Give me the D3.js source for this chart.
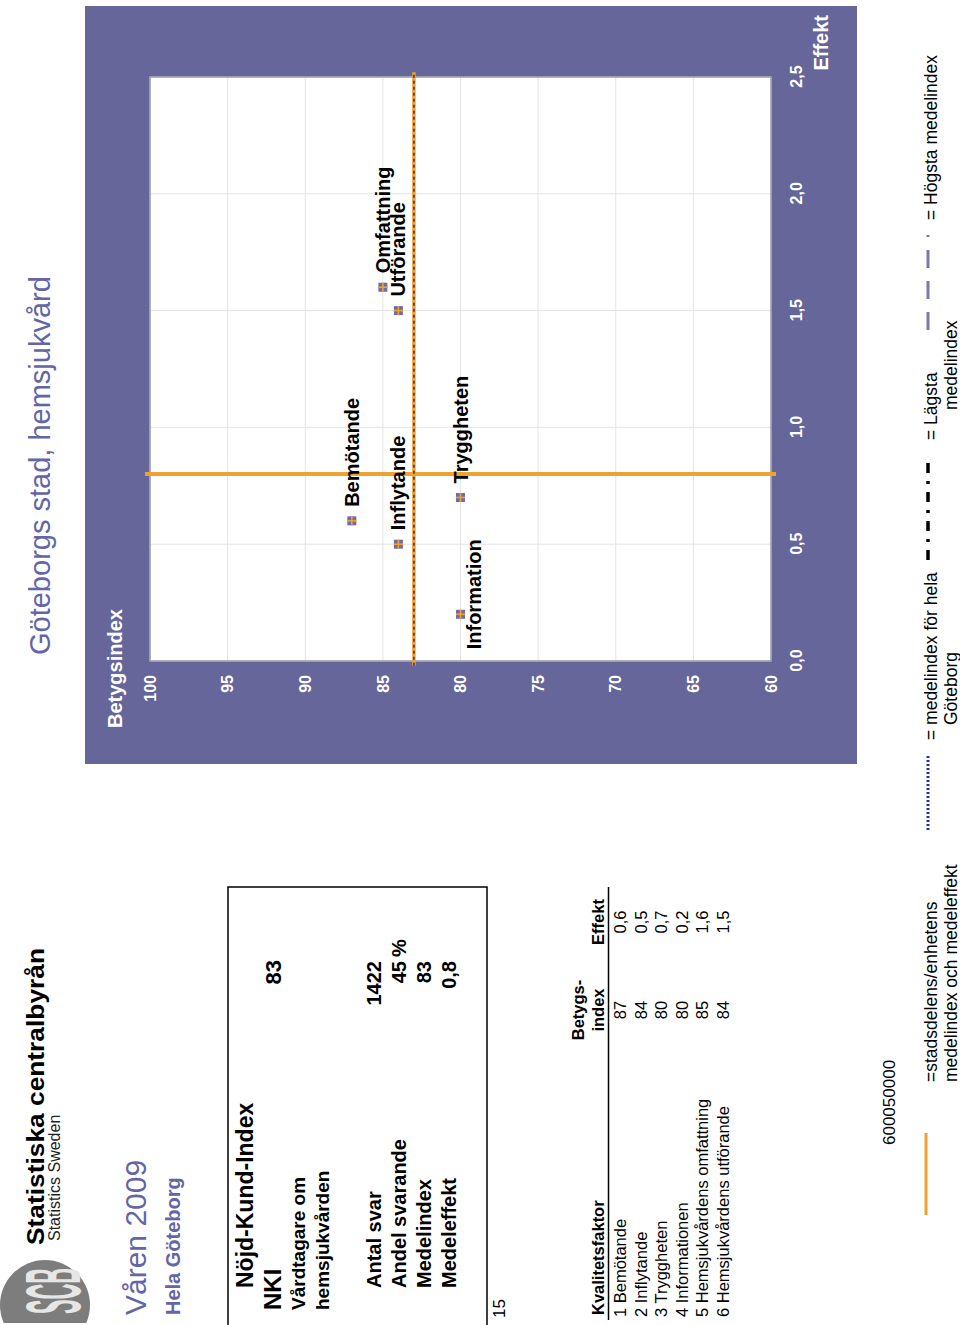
<!DOCTYPE html>
<html><head><meta charset="utf-8">
<script src="https://cdn.jsdelivr.net/npm/d3@7"></script>
<style>
html,body{margin:0;padding:0;background:#fff;}
svg{display:block;font-family:"Liberation Sans",Arial,sans-serif;}
</style></head>
<body>
<svg id="page" width="960" height="1325"></svg>
<script>
// ---------------- data ----------------
const categories = ["1 Bemötande","2 Inflytande","3 Tryggheten","4 Informationen","5 Hemsjukvårdens omfattning","6 Hemsjukvårdens utförande"];
const pointLabels = ["Bemötande","Inflytande","Tryggheten","Information","Omfattning","Utförande"];
const betygsindex = [87,84,80,80,85,84];
const effekt = [0.6,0.5,0.7,0.2,1.6,1.5];
const labelPlacement = ["right","right","right","below","right","right"];
const yTicks = [100,95,90,85,80,75,70,65,60];
const xTicks = [0,0.5,1.0,1.5,2.0,2.5];
const medelindex = 83;
const medeleffekt = 0.8;
const goteborgMedelindex = 83;
const nkiValue = 83;
const summaryLabels = ["Antal svar","Andel svarande","Medelindex","Medeleffekt"];
const summaryValues = ["1422","45","83","0,8"];
const pageNumber = "15";
const code = "600050000";

// ---------------- setup ----------------
const fmt = d => d.toFixed(1).replace(".", ",");
const PURPLE = "#66669a", ORANGE = "#f0a130", TITLE = "#6365a6";
const svg = d3.select("#page");
const g = svg.append("g").attr("transform","translate(0,1325) rotate(-90)");

function txt(parent, s, x, y, size, opts={}) {
  const t = parent.append("text").attr("x",x).attr("y",y)
    .attr("font-size",size).attr("fill",opts.fill||"#000")
    .attr("font-weight",opts.bold?"bold":"normal")
    .attr("text-anchor",opts.anchor||"start").text(s);
  if (opts.len) t.attr("textLength",opts.len).attr("lengthAdjust","spacingAndGlyphs");
  return t;
}

// ---------------- header ----------------
g.append("clipPath").attr("id","logoclip").append("rect").attr("x",2).attr("y",0).attr("width",100).attr("height",100);
const logo = g.append("g").attr("clip-path","url(#logoclip)");
logo.append("circle").attr("cx",20).attr("cy",45).attr("r",45).attr("fill","#7d7d7d");
txt(logo,"SCB",11,80,78,{bold:true,fill:"#e6e6e6",len:46});
txt(g,"Statistiska centralbyrån",80,44,24,{bold:true,len:297});
txt(g,"Statistics Sweden",84,60,16,{fill:"#222"});
txt(g,"Göteborgs stad, hemsjukvård",670,50,29,{fill:TITLE});
txt(g,"Våren 2009",10,146,30,{fill:TITLE});
txt(g,"Hela Göteborg",10,180,20,{bold:true,fill:TITLE});

// ---------------- NKI box ----------------
g.append("rect").attr("x",-2).attr("y",228).attr("width",440).attr("height",259)
  .attr("fill","none").attr("stroke","#000").attr("stroke-width",1.5);
txt(g,"Nöjd-Kund-Index",37,253,23,{bold:true});
txt(g,"NKI",15,281,24,{bold:true});
txt(g,String(nkiValue),365,281,22,{bold:true,anchor:"end"});
txt(g,"Vårdtagare om",15,305,19,{bold:true});
txt(g,"hemsjukvården",15,329,19,{bold:true});
summaryLabels.forEach((s,i)=>{
  const yy = 381 + i*25;
  txt(g,s,37,yy,20,{bold:true});
  txt(g,summaryValues[i],364,yy,20,{bold:true,anchor:"end"});
});
txt(g,"%",368,406,20,{bold:true});
txt(g,pageNumber,7,505,17);

// ---------------- table ----------------
txt(g,"Kvalitetsfaktor",10,604,16.5,{bold:true});
txt(g,"Betygs-",315,584,16.5,{bold:true,anchor:"middle"});
txt(g,"index",315,604,16.5,{bold:true,anchor:"middle"});
txt(g,"Effekt",403,604,16.5,{bold:true,anchor:"middle"});
g.append("line").attr("x1",5).attr("x2",438).attr("y1",608.5).attr("y2",608.5).attr("stroke","#000").attr("stroke-width",1.5);
categories.forEach((c,i)=>{
  const yy = 626 + i*20.6;
  txt(g,c,8,yy,16.5);
  txt(g,String(betygsindex[i]),315,yy,16.5,{anchor:"middle"});
  txt(g,fmt(effekt[i]),403,yy,16.5,{anchor:"middle"});
});
txt(g,code,180,895,17);

// ---------------- legend ----------------
const lg = g.append("g");
lg.append("line").attr("x1",110).attr("x2",192).attr("y1",926).attr("y2",926).attr("stroke",ORANGE).attr("stroke-width",3);
txt(lg,"=stadsdelens/enhetens",243,937,17.5);
txt(lg,"medelindex och medeleffekt",243,957,17.5);
lg.append("line").attr("x1",495).attr("x2",570).attr("y1",928).attr("y2",928).attr("stroke","#2233aa").attr("stroke-width",3).attr("stroke-dasharray","2,2");
txt(lg,"= medelindex för hela",585,937,17.5);
txt(lg,"Göteborg",600,957,17.5);
lg.append("line").attr("x1",765).attr("x2",865).attr("y1",928).attr("y2",928).attr("stroke","#000").attr("stroke-width",3.5).attr("stroke-dasharray","10,8,3,8");
txt(lg,"= Lägsta",885,937,17.5);
txt(lg,"medelindex",915,957,17.5);
lg.append("line").attr("x1",995).attr("x2",1090).attr("y1",928).attr("y2",928).attr("stroke","#7a7aa8").attr("stroke-width",3).attr("stroke-dasharray","18,13");
txt(lg,"= Högsta medelindex",1105,937,17.5);

// ---------------- chart ----------------
const panel = {x0:561,x1:1319,y0:85,y1:857};
const plot = {x0:664,x1:1248,y0:150,y1:771};
g.append("rect").attr("x",panel.x0).attr("y",panel.y0).attr("width",panel.x1-panel.x0).attr("height",panel.y1-panel.y0).attr("fill",PURPLE);
g.append("rect").attr("x",plot.x0).attr("y",plot.y0).attr("width",plot.x1-plot.x0).attr("height",plot.y1-plot.y0).attr("fill","#fff");

const x = d3.scaleLinear().domain([0,2.5]).range([plot.x0,plot.x1]);
const y = d3.scaleLinear().domain([60,100]).range([plot.y1,plot.y0]);

const grid = g.append("g").attr("stroke","#e4e4e4").attr("stroke-width",1);
grid.selectAll(".gx").data(xTicks).join("line")
  .attr("x1",d=>x(d)).attr("x2",d=>x(d)).attr("y1",plot.y0).attr("y2",plot.y1);
grid.selectAll(".gy").data(yTicks).join("line")
  .attr("x1",plot.x0).attr("x2",plot.x1).attr("y1",d=>y(d)).attr("y2",d=>y(d));
g.append("rect").attr("x",plot.x0).attr("y",plot.y0).attr("width",plot.x1-plot.x0).attr("height",plot.y1-plot.y0)
  .attr("fill","none").attr("stroke","#9a9ab0").attr("stroke-width",1.5);

// axes (labels only)
const ax = g.append("g").attr("transform",`translate(${plot.x0},0)`)
  .call(d3.axisLeft(y).tickValues(yTicks).tickSize(0).tickPadding(14));
const bx = g.append("g").attr("transform",`translate(0,${plot.y1})`)
  .call(d3.axisBottom(x).tickValues(xTicks).tickFormat(fmt).tickSize(0).tickPadding(20));
[ax,bx].forEach(a=>{
  a.select(".domain").remove();
  a.selectAll("text").attr("fill","#fff").attr("font-size",16).attr("font-weight","bold")
    .attr("font-family","Liberation Sans, Arial, sans-serif");
});
txt(g,"Betygsindex",597,122,20,{bold:true,fill:"#fff"});
txt(g,"Effekt",1310,828,20,{bold:true,fill:"#fff",anchor:"end"});

// average lines
g.append("line").attr("x1",x(medeleffekt)).attr("x2",x(medeleffekt))
  .attr("y1",y(100)-5).attr("y2",y(60)+5).attr("stroke",ORANGE).attr("stroke-width",4);
g.append("line").attr("x1",x(-0.02)).attr("x2",x(2.52))
  .attr("y1",y(medelindex)).attr("y2",y(medelindex)).attr("stroke",ORANGE).attr("stroke-width",3.5);
g.append("line").attr("x1",x(-0.02)).attr("x2",x(2.52))
  .attr("y1",y(goteborgMedelindex)).attr("y2",y(goteborgMedelindex)).attr("stroke","#3a2a66").attr("stroke-width",1.5).attr("stroke-dasharray","3,3");

// points
const pts = betygsindex.map((b,i)=>({b, e:effekt[i], label:pointLabels[i], place:labelPlacement[i]}));
const mk = g.append("g").selectAll("g").data(pts).join("g")
  .attr("transform",d=>`translate(${x(d.e)},${y(d.b)})`);
mk.append("rect").attr("x",-4.5).attr("y",-4.5).attr("width",9).attr("height",9).attr("fill","#6d6dab");
mk.append("line").attr("x1",-4.5).attr("x2",4.5).attr("y1",0).attr("y2",0).attr("stroke",ORANGE).attr("stroke-width",1.6);
mk.append("line").attr("y1",-4.5).attr("y2",4.5).attr("x1",0).attr("x2",0).attr("stroke",ORANGE).attr("stroke-width",1.6);
mk.append("text")
  .attr("x",d=>d.place==="right"?14:20)
  .attr("y",d=>d.place==="right"?7:20)
  .attr("text-anchor",d=>d.place==="right"?"start":"middle")
  .attr("font-size",20).attr("font-weight","bold").attr("fill","#000")
  .text(d=>d.label);
</script>
</body></html>
